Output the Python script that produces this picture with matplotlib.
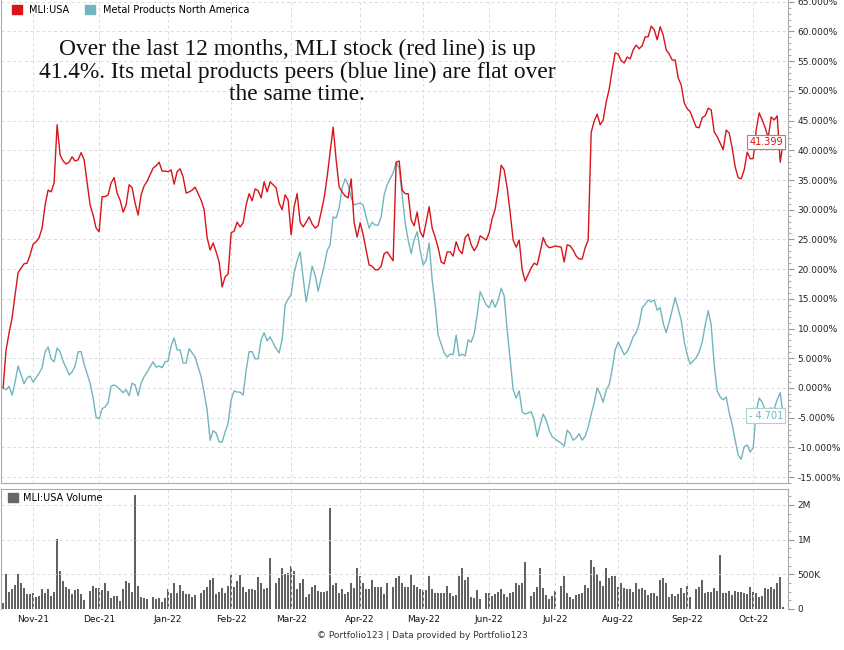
import numpy as np
import pandas as pd
import matplotlib
matplotlib.use("Agg")
import matplotlib.pyplot as plt
import matplotlib.transforms as mtransforms
from matplotlib.patches import Patch
from matplotlib.ticker import FixedLocator, FuncFormatter

# trading calendar (weekday axis, market holidays leave gaps in the volume bars)
START, END = "2021-10-18", "2022-10-17"
HOLIDAYS = ["2021-11-25", "2021-12-24", "2022-01-17", "2022-02-21", "2022-04-15",
            "2022-05-30", "2022-06-20", "2022-07-04", "2022-09-05"]

# % change since start, one value per trading day
MLI_PCT = [
    0.0, 6.4, 9.3, 11.8, 15.7, 19.4, 20.2, 20.9, 21.0, 22.4, 24.2, 24.6, 25.3, 26.9,
    30.8, 33.3, 33.0, 34.5, 44.3, 39.2, 38.2, 37.7, 38.0, 38.9, 38.2, 38.4, 39.6, 38.4,
    30.8, 29.1, 26.9, 26.3, 32.2, 32.2, 32.5, 34.5, 35.4, 32.8, 31.6, 29.6, 30.8, 34.2,
    33.7, 31.1, 29.1, 32.5, 34.0, 34.8,
    37.0, 37.4, 38.0, 36.5, 36.5, 36.4, 36.7, 34.3, 36.4, 36.9, 35.5, 32.8, 33.0, 33.3, 33.8,
    31.6, 30.0, 25.3, 23.2, 24.4, 22.9, 21.2, 17.0, 18.7, 19.2, 26.1, 26.4, 27.9, 27.1,
    27.8, 30.8, 32.7, 31.5, 33.5, 33.2, 32.0, 34.7, 33.0, 34.7,
    33.7, 31.1, 30.0, 32.5, 31.6, 25.8, 30.5, 32.7, 27.9, 27.1, 27.9, 28.8, 27.6, 26.9,
    27.3, 29.6, 32.0, 35.5, 39.7, 43.9, 38.4, 33.8, 33.0, 32.3, 32.0, 35.2, 27.8, 25.4,
    27.8, 25.8, 23.2, 20.7, 20.5, 19.9, 19.9, 20.5, 22.6, 22.9,
    21.4, 38.0, 38.2, 33.3, 32.7, 32.7, 28.3, 27.3, 29.6, 26.3, 25.4, 27.9, 30.5, 26.9,
    25.4, 23.6, 21.2, 20.9, 22.9, 22.9, 22.2, 24.6, 23.2, 22.6, 25.3, 25.9, 24.1, 23.1,
    23.9, 25.6,
    24.9, 26.1, 28.5, 30.1, 33.3, 37.5, 36.7, 33.7, 29.5, 24.9, 23.7, 24.9, 19.9, 18.0,
    20.2, 21.0, 20.7, 22.9, 25.3, 24.1, 23.6, 23.7, 23.9,
    23.7, 21.2, 24.1, 23.9, 23.2, 22.2, 21.7, 21.7, 23.6, 24.9, 43.0, 44.9, 46.1, 44.3,
    45.1, 48.1, 50.3, 53.5, 56.4, 56.2, 55.1, 54.7, 55.7, 55.4, 56.9, 57.7, 57.1, 57.6,
    59.1, 59.1, 60.9, 60.3, 58.6, 60.8, 59.4, 56.9, 56.2, 55.2, 55.2, 52.2, 51.0, 48.0,
    47.0, 46.5,
    43.9, 43.8, 45.5, 45.8, 47.1, 46.8, 43.1, 42.3, 41.2, 40.1, 43.4, 42.9, 40.4, 37.2,
    35.4, 35.2, 36.7, 39.7, 38.6, 38.6, 43.4, 46.3, 45.1, 43.8, 42.1, 45.6, 45.1, 45.8,
    38.0, 41.399,
]
PEERS_PCT = [
    0.0, -0.3, 0.3, -1.2, 1.0, 3.7, 2.2, 0.7, 1.7, 2.0, 1.0, 1.7, 2.5, 3.4, 6.1, 6.9,
    4.9, 4.4, 6.7, 6.1, 4.5, 3.4, 2.2, 2.7, 3.7, 6.1, 6.1, 4.0,
    0.8, -1.7, -4.9, -5.2, -3.5, -3.2, -2.5, 0.3, 0.5, 0.2, -0.3, -0.8, -0.3, -1.3,
    0.8, 0.5, -1.3, 0.8, 1.9, 2.7,
    4.4, 3.5, 3.7, 3.4, 4.4, 4.5, 7.1, 8.4, 6.4, 6.4, 4.2, 4.2, 6.6, 5.9, 5.2,
    1.9, -0.8, -3.7, -8.8, -7.2, -7.6, -9.1, -9.1, -7.4, -5.9, -2.0, -0.5, -0.7, -0.7,
    -1.2, 3.0, 6.1, 6.1, 4.9, 4.9, 8.1, 9.3, 7.9, 8.6,
    6.6, 5.9, 8.1, 14.0, 15.0, 15.7, 19.4, 21.4, 22.9, 18.5, 14.5, 17.3, 20.5, 19.0,
    16.3, 18.5, 20.5, 23.1, 24.1, 28.8, 28.6, 30.3, 33.7, 35.2, 34.2, 32.0, 30.8, 31.0,
    31.1, 30.8, 28.8, 26.9, 27.9, 27.4, 27.4, 28.8, 32.5, 34.2,
    36.2, 38.0, 37.0, 32.5, 27.8, 24.9, 22.6, 24.9, 26.3, 23.2, 20.7, 21.5, 24.4, 18.2,
    14.0, 8.9, 7.4, 5.9, 5.2, 5.7, 5.6, 8.9, 5.4, 5.7, 5.4, 8.1, 7.7, 9.1, 12.3, 16.2,
    14.0, 13.5, 14.8, 13.6, 14.8, 16.8, 15.5, 9.8, 4.7, -0.3, -1.7, -0.5, -4.0, -4.4,
    -4.0, -5.4, -8.2, -6.2, -4.4, -5.4, -7.1, -8.2, -8.6,
    -9.3, -9.8, -7.1, -7.7, -8.8, -8.4, -7.7, -8.8, -8.1, -6.6, -4.4, -2.5, 0.0, -1.0,
    -2.4, -0.3, 0.5, 3.2, 6.4, 7.7, 6.7, 5.6, 6.1, 7.2, 8.6, 9.3, 10.8, 13.5, 14.1,
    14.8, 14.5, 14.8, 13.1, 13.5, 10.9, 9.3, 11.1, 13.1, 15.2, 13.3, 11.4, 7.9, 5.6, 4.0,
    5.1, 6.1, 7.7, 10.6, 13.0, 10.6, 3.9, -0.5, -1.5, -2.0, -1.5, -4.2, -6.2, -8.8,
    -11.3, -12.0, -9.9, -9.6, -10.8, -10.1, -3.9, -1.7, -2.4, -3.7, -3.5, -3.4, -3.5,
    -2.0, -0.8, -4.701,
]
# daily volume, thousands of shares
VOLUME_K = [
    88, 500, 250, 294, 353, 500, 368, 309, 221, 221, 235, 176, 191, 294, 235, 294, 191,
    250, 1030, 543, 397, 323, 294, 221, 279, 294, 221, 132,
    265, 338, 309, 309, 279, 368, 265, 162, 191, 191, 118, 294, 397, 368, 250, 2290,
    338, 176, 162, 147,
    176, 147, 162, 103, 162, 294, 235, 382, 235, 353, 265, 221, 221, 176, 206,
    235, 279, 323, 412, 441, 221, 250, 309, 235, 338, 485, 323, 397, 485, 323, 250,
    294, 294, 279, 456, 382, 294, 309, 729,
    368, 441, 586, 500, 514, 614, 543, 294, 382, 426, 176, 221, 323, 353, 265, 250,
    250, 265, 1915, 353, 368, 235, 294, 221, 250, 382, 309, 586, 470, 368, 294, 294,
    412, 323, 323, 323, 221, 368,
    323, 441, 470, 368, 323, 323, 500, 353, 323, 294, 279, 279, 470, 294, 235, 235,
    235, 235, 338, 235, 191, 206, 470, 586, 412, 456, 176, 162, 279, 147,
    235, 235, 191, 221, 250, 294, 221, 176, 235, 250, 368, 353, 368, 672,
    191, 250, 323, 586, 309, 206, 147, 191, 265,
    338, 470, 235, 176, 147, 206, 221, 235, 353, 309, 700, 600, 500, 397, 338, 586,
    441, 470, 470, 323, 368, 309, 294, 294, 250, 382, 294, 309, 279, 206, 235, 235,
    191, 412, 441, 368, 176, 221, 191, 221, 309, 235, 338, 176,
    294, 323, 412, 235, 250, 250, 309, 265, 772, 235, 235, 265, 206, 265, 250, 250,
    235, 221, 323, 250, 235, 176, 191, 309, 294, 323, 294, 382, 456, 29,
]

PCT_TICKS = list(range(-15, 66, 5))
VOL_TICKS = [0, 500_000, 1_000_000, 2_000_000]
VOL_TICK_LABELS = ["0", "500K", "1M", "2M"]

NOTE = ("Over the last 12 months, MLI stock (red line) is up\n"
        "41.4%. Its metal products peers (blue line) are flat over\n"
        "the same time.")

RED = "#d7141a"
TEAL = "#72b5be"
GRID = "#dadada"
SPINE = "#aaaaaa"

weekdays = pd.bdate_range(START, END)
trading = weekdays[~weekdays.isin(pd.to_datetime(HOLIDAYS))]
pos = weekdays.get_indexer(trading)
assert len(pos) == len(MLI_PCT) == len(PEERS_PCT) == len(VOLUME_K), (
    len(pos), len(MLI_PCT), len(PEERS_PCT), len(VOLUME_K))

months = pd.date_range("2021-11-01", END, freq="MS")
month_pos = weekdays.searchsorted(months)
month_labels = months.strftime("%b-%y")

# volume axis: 0, 500K, 1M, 2M equally spaced
VOL_KNOTS = [0, 5e5, 1e6, 2e6, 3e6]
VOL_DISP = [0, 1, 2, 3, 4]
def vol_fwd(v):
    return np.interp(v, VOL_KNOTS, VOL_DISP)
def vol_inv(d):
    return np.interp(d, VOL_DISP, VOL_KNOTS)

W, H = 845, 650
fig = plt.figure(figsize=(W / 100, H / 100), dpi=100)
ax = fig.add_axes([1 / W, 1 - 483 / H, 787 / W, 483 / H])
axv = fig.add_axes([1 / W, 1 - 609 / H, 787 / W, 120 / H])

xlim = (-0.7, len(weekdays) + 0.6)
tick_kw = dict(labelsize=6.5, labelcolor="#222222", colors="#999999")

# ---- price panel
ax.plot(pos, PEERS_PCT, color=TEAL, lw=1.0)
ax.plot(pos, MLI_PCT, color=RED, lw=1.0)
ax.set_xlim(*xlim)
ax.set_ylim(-16.0, 65.3)
ax.yaxis.tick_right()
ax.yaxis.set_major_locator(FixedLocator(PCT_TICKS))
ax.yaxis.set_minor_locator(FixedLocator(np.arange(-16, 66, 1)))
ax.yaxis.set_major_formatter(FuncFormatter(lambda v, p: f"{v:.3f}%"))
ax.tick_params(axis="y", which="major", length=4, pad=3, **tick_kw)
ax.tick_params(axis="y", which="minor", length=2.5, colors="#999999")
ax.set_xticks(month_pos)
ax.tick_params(axis="x", length=0, labelbottom=False)
ax.grid(True, which="major", ls=(0, (3, 3)), color=GRID, lw=0.7)
for side in ["left", "bottom", "right"]:
    ax.spines[side].set_color(SPINE)
ax.spines["top"].set_visible(False)

ax.legend(handles=[Patch(color=RED, label="MLI:USA"),
                   Patch(color=TEAL, label="Metal Products North America")],
          loc="upper left", bbox_to_anchor=(9 / 787, 1 - 3 / 483), ncol=2,
          frameon=False, fontsize=7, handlelength=1.0, handleheight=1.0,
          handletextpad=0.8, columnspacing=1.6, borderaxespad=0, borderpad=0.2)

fig.text(297 / W, 1 - 72 / H, NOTE, ha="center", va="center", multialignment="center",
         family="Liberation Serif", fontsize=16.8, linespacing=1.08, color="#111111")

# last value tags
tag_tr = mtransforms.blended_transform_factory(ax.transAxes, ax.transData)
last_red, last_teal = MLI_PCT[-1], PEERS_PCT[-1]
ax.text(0.9935, last_red, f"{last_red:.3f}", transform=tag_tr, ha="right", va="center",
        fontsize=7, color=RED,
        bbox=dict(boxstyle="square,pad=0.25", fc="white", ec="#e06a6e", lw=0.8))
teal_txt = f"- {abs(last_teal):.3f}" if last_teal < 0 else f"{last_teal:.3f}"
ax.text(0.9935, last_teal, teal_txt, transform=tag_tr, ha="right", va="center",
        fontsize=7, color=TEAL,
        bbox=dict(boxstyle="square,pad=0.25", fc="white", ec="#a9d3d8", lw=0.8))

# ---- volume panel
axv.set_yscale("function", functions=(vol_fwd, vol_inv))
axv.bar(pos, np.array(VOLUME_K) * 1000, width=0.86, color="#626262", lw=0)
axv.set_xlim(*xlim)
axv.set_ylim(0, 2.46e6)
axv.yaxis.tick_right()
axv.yaxis.set_major_locator(FixedLocator(VOL_TICKS))
axv.yaxis.set_major_formatter(FuncFormatter(
    lambda v, p: VOL_TICK_LABELS[VOL_TICKS.index(v)] if v in VOL_TICKS else ""))
axv.yaxis.set_minor_locator(FixedLocator(vol_inv(np.arange(0.25, 3.5, 0.25))))
axv.tick_params(axis="y", which="major", length=4, pad=3, **tick_kw)
axv.tick_params(axis="y", which="minor", length=2.5, colors="#999999")
axv.set_xticks(month_pos)
axv.set_xticklabels(month_labels)
axv.tick_params(axis="x", length=0, pad=4, labelsize=6.5, labelcolor="#111111")
axv.grid(True, which="major", ls=(0, (3, 3)), color=GRID, lw=0.7)
for side in ["left", "top", "right"]:
    axv.spines[side].set_color(SPINE)
axv.spines["bottom"].set_visible(False)
axv.legend(handles=[Patch(color="#666666", label="MLI:USA Volume")],
           loc="upper left", bbox_to_anchor=(5 / 787, 1 - 2 / 120), frameon=False,
           fontsize=7, handlelength=1.0, handleheight=1.0, handletextpad=0.6,
           borderaxespad=0, borderpad=0.2)

fig.text(422 / W, 1 - 636 / H, "\u00a9 Portfolio123 | Data provided by Portfolio123",
         ha="center", va="center", fontsize=6.5, color="#333333")

fig.savefig("out.png", dpi=100)
